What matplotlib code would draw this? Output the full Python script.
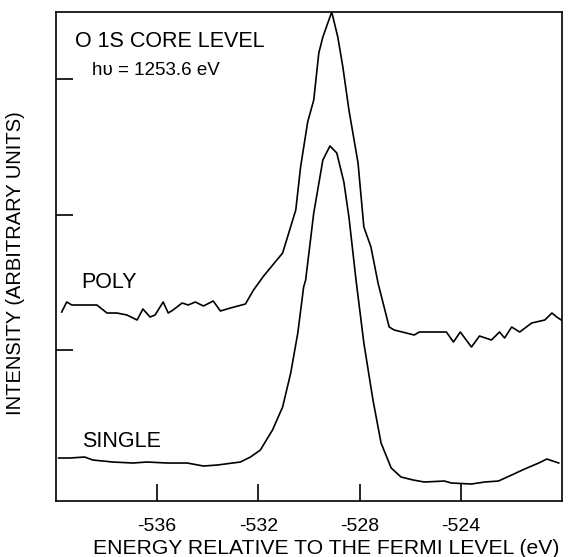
import numpy as np
import matplotlib
matplotlib.use("Agg")
import matplotlib.pyplot as plt

plt.rcParams['font.family'] = ['Liberation Sans', 'DejaVu Sans']

# POLY spectrum (energy in eV, intensity in arbitrary units)
poly_e = [-539.77, -539.57, -539.37, -538.66, -538.38, -537.98, -537.59, -537.19,
          -536.79, -536.56, -536.28, -536.08, -535.76, -535.56, -535.37, -535.01,
          -534.77, -534.49, -534.17, -533.78, -533.50, -533.10, -532.51, -532.19,
          -531.79, -531.04, -530.52, -530.33, -530.05, -529.81, -529.61, -529.45,
          -529.10, -528.86, -528.66, -528.42, -528.06, -527.83, -527.55, -527.27,
          -526.83, -526.63, -525.84, -525.64, -525.05, -524.57, -524.29, -524.02,
          -523.58, -523.26, -522.79, -522.47, -522.27, -521.99, -521.67, -521.20,
          -520.68, -520.40, -520.21, -519.97]
poly_i = [1.89, 1.99, 1.96, 1.96, 1.96, 1.88, 1.88, 1.86,
          1.81, 1.92, 1.84, 1.86, 1.99, 1.88, 1.91, 1.98,
          1.96, 1.99, 1.95, 2.00, 1.90, 1.93, 1.97, 2.11,
          2.25, 2.48, 2.91, 3.34, 3.79, 4.01, 4.48, 4.64,
          4.89, 4.64, 4.34, 3.91, 3.38, 2.74, 2.54, 2.18,
          1.74, 1.71, 1.66, 1.69, 1.69, 1.69, 1.59, 1.69,
          1.54, 1.65, 1.61, 1.69, 1.63, 1.74, 1.69, 1.78,
          1.81, 1.88, 1.84, 1.80]

# SINGLE spectrum
single_e = [-539.89, -539.45, -538.86, -538.54, -537.75, -536.95, -536.40, -535.60,
            -534.81, -534.17, -533.62, -532.71, -532.31, -531.92, -531.44, -531.04,
            -530.72, -530.44, -530.21, -530.13, -529.81, -529.45, -529.17, -528.90,
            -528.62, -528.42, -528.14, -527.83, -527.47, -527.15, -526.75, -526.36,
            -525.88, -525.44, -524.65, -524.37, -523.58, -523.06, -522.51, -521.99,
            -521.48, -520.92, -520.60, -520.13]
single_i = [0.43, 0.43, 0.44, 0.41, 0.39, 0.38, 0.39, 0.38,
            0.38, 0.35, 0.36, 0.39, 0.44, 0.51, 0.71, 0.94,
            1.28, 1.68, 2.14, 2.21, 2.88, 3.41, 3.55, 3.48,
            3.19, 2.84, 2.21, 1.58, 1.01, 0.58, 0.33, 0.24,
            0.21, 0.19, 0.20, 0.18, 0.17, 0.19, 0.20, 0.26,
            0.32, 0.38, 0.42, 0.38]

xticks = [-536, -532, -528, -524]
yticks = [1.51, 2.86, 4.22]

fig = plt.figure(figsize=(5.70, 5.57), dpi=100)
ax = fig.add_axes([0.098, 0.1005, 0.888, 0.878])

ax.plot(poly_e, poly_i, color='black', lw=1.2)
ax.plot(single_e, single_i, color='black', lw=1.2)

ax.set_xlim(-540, -520)
ax.set_ylim(0, 4.89)
ax.set_xticks(xticks)
ax.set_xticklabels([str(t) for t in xticks], fontsize=14)
ax.set_yticks(yticks)
ax.set_yticklabels([])
ax.tick_params(axis='both', direction='in', length=12, width=1.2)
ax.tick_params(axis='x', pad=12)
for s in ax.spines.values():
    s.set_linewidth(1.2)

ax.text(0.038, 0.929, "O 1S CORE LEVEL", transform=ax.transAxes, fontsize=15.5,
        va='baseline')
ax.text(0.071, 0.871, "h\u03c5 = 1253.6 eV", transform=ax.transAxes, fontsize=13.5,
        va='baseline')
ax.text(0.051, 0.4356, "POLY", transform=ax.transAxes, fontsize=15.5, va='baseline')
ax.text(0.051, 0.1104, "SINGLE", transform=ax.transAxes, fontsize=15.5, va='baseline')

ax.set_xlabel("ENERGY RELATIVE TO THE FERMI LEVEL (eV)", fontsize=15.2)
ax.xaxis.set_label_coords(0.5336, -0.078)
ax.set_ylabel("INTENSITY (ARBITRARY UNITS)", fontsize=14.5)
ax.yaxis.set_label_coords(-0.06, 0.487)

fig.savefig("out.png", dpi=100)
